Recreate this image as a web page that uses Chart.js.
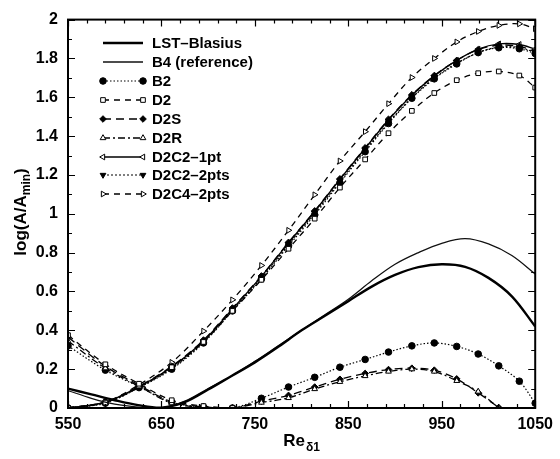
<!DOCTYPE html>
<html>
<head>
<meta charset="utf-8">
<script src="https://cdn.jsdelivr.net/npm/chart.js@4/dist/chart.umd.min.js"></script>
<style>
  html, body { margin: 0; padding: 0; background: #fff; }
  #wrap { width: 560px; height: 459px; }
</style>
</head>
<body>
<div id="wrap"><canvas id="ampChart" width="560" height="459"></canvas></div>
<script>
// Re_delta1 stations of the marked solutions
const reStations = [550, 590, 626, 661, 695, 726, 757, 786, 814, 841, 868, 893, 918, 942, 966, 989, 1011, 1033, 1050];
// stations for the continuous curves
const smoothRe = [550, 575, 600, 625, 650, 675, 700, 725, 750, 775, 800, 825, 850, 875, 900, 925, 950, 975, 1000, 1025, 1050];

const xTickLabels = [550, 650, 750, 850, 950, 1050];
const yTickLabels = [0, 0.2, 0.4, 0.6, 0.8, 1, 1.2, 1.4, 1.6, 1.8, 2];

const lstBlasius = [0.10, 0.07, 0.04, 0.015, 0.002, 0.03, 0.095, 0.165, 0.235, 0.315, 0.40, 0.475, 0.55, 0.625, 0.685, 0.725, 0.74, 0.727, 0.67, 0.575, 0.42];
const b4Reference = [0.09, 0.05, 0.02, 0.005, 0.0, 0.035, 0.10, 0.165, 0.24, 0.32, 0.40, 0.48, 0.56, 0.655, 0.74, 0.80, 0.848, 0.872, 0.845, 0.785, 0.69];

// first mode (large growth)
const b2Upper     = [0, 0.025, 0.105, 0.20, 0.335, 0.50, 0.665, 0.835, 0.995, 1.16, 1.32, 1.465, 1.595, 1.695, 1.772, 1.83, 1.855, 1.85, 1.825];
const d2Upper     = [0, 0.028, 0.108, 0.21, 0.34, 0.50, 0.66, 0.82, 0.975, 1.135, 1.28, 1.415, 1.53, 1.622, 1.688, 1.724, 1.733, 1.712, 1.65];
const d2sUpper    = [0, 0.03, 0.112, 0.215, 0.35, 0.515, 0.68, 0.853, 1.015, 1.18, 1.34, 1.487, 1.613, 1.712, 1.79, 1.845, 1.868, 1.862, 1.836];
const d2c2_1pt    = [0, 0.03, 0.11, 0.21, 0.345, 0.51, 0.678, 0.85, 1.012, 1.177, 1.337, 1.483, 1.61, 1.71, 1.79, 1.848, 1.875, 1.872, 1.848];
const d2c2_2pts   = [0, 0.028, 0.105, 0.205, 0.34, 0.505, 0.67, 0.842, 1.003, 1.167, 1.327, 1.47, 1.598, 1.70, 1.775, 1.83, 1.858, 1.856, 1.832];
const d2c4_2pts   = [0, 0.032, 0.12, 0.235, 0.396, 0.557, 0.734, 0.915, 1.098, 1.272, 1.423, 1.567, 1.702, 1.80, 1.885, 1.939, 1.97, 1.978, 1.953];

// second mode (small growth)
const b2Lower  = [0.32, 0.195, 0.11, 0.03, 0.005, 0, 0.05, 0.108, 0.158, 0.21, 0.25, 0.288, 0.32, 0.335, 0.317, 0.278, 0.217, 0.138, 0.025];
const d2Lower  = [0.375, 0.225, 0.125, 0.04, 0.01, 0, null, null, null, null, null, null, null, null, null, null, null, null, null];
const d2sLower = [0.365, 0.215, 0.118, 0.032, 0.006, 0, 0.035, 0.065, 0.108, 0.148, 0.178, 0.198, 0.205, 0.195, 0.15, 0.078, 0.002, null, null];
const d2rLower = [0.345, 0.205, 0.112, 0.025, 0.004, 0, 0.028, 0.052, 0.098, 0.135, 0.165, 0.188, 0.20, 0.188, 0.14, 0.085, 0.0, null, null];

const styles = {
  'LST\u2013Blasius':   { width: 2.4, dash: [], marker: false },
  'B4 (reference)':     { width: 1.3, dash: [], marker: false, color: '#111' },
  'B2':                 { width: 1.2, dash: [1.5, 2], marker: 'circle', fill: true, rot: 0 },
  'D2':                 { width: 1.3, dash: [6, 5], marker: 'rect', fill: false, rot: 0 },
  'D2S':                { width: 1.3, dash: [8, 5], marker: 'rectRot', fill: true, rot: 0 },
  'D2R':                { width: 1.3, dash: [7, 3, 2, 3], marker: 'triangle', fill: false, rot: 0 },
  'D2C2\u20131pt':      { width: 1.4, dash: [], marker: 'triangle', fill: false, rot: -90 },
  'D2C2\u20132pts':     { width: 1.2, dash: [2, 2], marker: 'triangle', fill: true, rot: 180 },
  'D2C4\u20132pts':     { width: 1.3, dash: [6, 5], marker: 'triangle', fill: false, rot: 90 }
};

const pts = (xs, ys) => xs.map((x, i) => ({ x: x, y: ys[i] }));

function series(name, xs, ys) {
  const s = styles[name];
  return {
    label: name,
    data: pts(xs, ys),
    borderColor: s.color || '#000',
    borderWidth: s.width,
    borderDash: s.dash,
    tension: 0.35,
    fill: false,
    pointStyle: s.marker || 'circle',
    pointRadius: s.marker ? 3.3 : 0,
    pointRotation: s.rot || 0,
    pointBackgroundColor: s.fill ? '#000' : '#fff',
    pointBorderColor: '#000',
    pointBorderWidth: 1
  };
}

const datasets = [
  series('LST\u2013Blasius', smoothRe, lstBlasius),
  series('B4 (reference)', smoothRe, b4Reference),
  series('D2', reStations, d2Lower),
  series('D2R', reStations, d2rLower),
  series('D2S', reStations, d2sLower),
  series('B2', reStations, b2Lower),
  series('D2', reStations, d2Upper),
  series('B2', reStations, b2Upper),
  series('D2S', reStations, d2sUpper),
  series('D2C2\u20132pts', reStations, d2c2_2pts),
  series('D2C2\u20131pt', reStations, d2c2_1pt),
  series('D2C4\u20132pts', reStations, d2c4_2pts)
];

const font = 'Liberation Sans, Arial, sans-serif';

// frame, inward ticks, axis titles and the legend box
const decorations = {
  id: 'decorations',
  afterDraw(chart) {
    const { ctx, chartArea: a, scales: { x, y } } = chart;
    ctx.save();
    ctx.strokeStyle = '#000';
    ctx.lineWidth = 2;
    ctx.setLineDash([]);
    ctx.strokeRect(a.left, a.top, a.right - a.left, a.bottom - a.top);

    ctx.lineWidth = 1.2;
    ctx.beginPath();
    for (let v = 550; v <= 1050; v += 20) {
      const px = Math.round(x.getPixelForValue(v)) + 0.5;
      const len = (v - 550) % 100 === 0 ? 7 : 4;
      ctx.moveTo(px, a.bottom); ctx.lineTo(px, a.bottom - len);
      ctx.moveTo(px, a.top); ctx.lineTo(px, a.top + len);
    }
    for (let i = 0; i <= 20; i++) {
      const py = Math.round(y.getPixelForValue(i / 10)) + 0.5;
      const len = i % 2 === 0 ? 7 : 4;
      ctx.moveTo(a.left, py); ctx.lineTo(a.left + len, py);
      ctx.moveTo(a.right, py); ctx.lineTo(a.right - len, py);
    }
    ctx.stroke();

    // y title: log(A/A_min)
    ctx.fillStyle = '#000';
    ctx.textBaseline = 'alphabetic';
    ctx.translate(26, 212);
    ctx.rotate(-Math.PI / 2);
    const big = 'bold 17px ' + font, small = 'bold 12px ' + font;
    ctx.font = big;
    const w1 = ctx.measureText('log(A/A').width, w3 = ctx.measureText(')').width;
    ctx.font = small;
    const w2 = ctx.measureText('min').width;
    let sx = -(w1 + w2 + w3) / 2;
    ctx.font = big; ctx.fillText('log(A/A', sx, 0);
    ctx.font = small; ctx.fillText('min', sx + w1, 4);
    ctx.font = big; ctx.fillText(')', sx + w1 + w2, 0);
    ctx.setTransform(1, 0, 0, 1, 0, 0);

    // x title: Re_delta1
    ctx.font = big;
    const r1 = ctx.measureText('Re').width;
    ctx.font = small;
    const r2 = ctx.measureText('\u03b41').width;
    sx = 301 - (r1 + r2) / 2;
    ctx.font = big; ctx.fillText('Re', sx, 446);
    ctx.font = small; ctx.fillText('\u03b41', sx + r1 + 1, 451);

    // legend
    const names = Object.keys(styles);
    const rowY = [43, 62, 81, 100, 119, 138, 157, 175, 194];
    ctx.font = 'bold 15px ' + font;
    ctx.textBaseline = 'middle';
    names.forEach((name, i) => {
      const s = styles[name], yy = rowY[i];
      ctx.strokeStyle = s.color || '#000';
      ctx.lineWidth = s.width;
      ctx.setLineDash(s.dash);
      ctx.beginPath();
      ctx.moveTo(103, yy); ctx.lineTo(143, yy);
      ctx.stroke();
      ctx.setLineDash([]);
      if (s.marker) {
        ctx.lineWidth = 1;
        ctx.strokeStyle = '#000';
        ctx.fillStyle = s.fill ? '#000' : '#fff';
        [103, 143].forEach(mx => Chart.helpers.drawPoint(ctx, {
          pointStyle: s.marker, radius: 3.3, rotation: s.rot, borderWidth: 1
        }, mx, yy));
      }
      ctx.fillStyle = '#000';
      ctx.fillText(name, 152, yy + 1);
    });
    ctx.restore();
  }
};

new Chart(document.getElementById('ampChart'), {
  type: 'line',
  data: { datasets: datasets },
  options: {
    responsive: false,
    devicePixelRatio: 1,
    animation: false,
    layout: { padding: { top: 14, right: 19, left: 0, bottom: 0 } },
    plugins: { legend: { display: false }, tooltip: { enabled: false } },
    scales: {
      x: {
        type: 'linear', min: 550, max: 1050,
        afterBuildTicks: axis => { axis.ticks = xTickLabels.map(v => ({ value: v })); },
        afterFit: s => { s.height = 51; },
        grid: { display: false, drawTicks: false },
        border: { display: false },
        ticks: {
          color: '#000', padding: 7, maxRotation: 0,
          font: { family: font, size: 16, weight: 'bold' },
          callback: v => String(v)
        }
      },
      y: {
        type: 'linear', min: 0, max: 2,
        afterBuildTicks: axis => { axis.ticks = yTickLabels.map(v => ({ value: v })); },
        afterFit: s => { s.width = 68; },
        grid: { display: false, drawTicks: false },
        border: { display: false },
        ticks: {
          color: '#000', padding: 10,
          font: { family: font, size: 16, weight: 'bold' },
          callback: v => String(+v.toFixed(1))
        }
      }
    }
  },
  plugins: [decorations]
});
</script>
</body>
</html>
